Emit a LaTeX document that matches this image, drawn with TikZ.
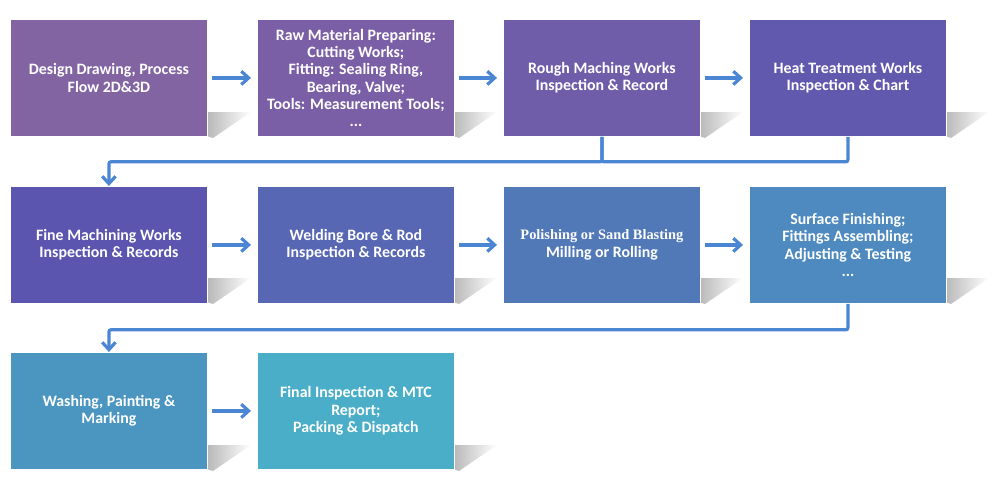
\documentclass[tikz,border=0pt]{standalone}
\usepackage{fontspec}
\setmainfont{Carlito}
\newfontfamily\serifb{Liberation Serif}
\usetikzlibrary{arrows.meta}
\definecolor{c1}{HTML}{8264A3}
\definecolor{c2}{HTML}{7B5FA6}
\definecolor{c3}{HTML}{6F5DAA}
\definecolor{c4}{HTML}{6159AE}
\definecolor{c5}{HTML}{5B55AF}
\definecolor{c6}{HTML}{5767B4}
\definecolor{c7}{HTML}{5179B8}
\definecolor{c8}{HTML}{4E8ABF}
\definecolor{c9}{HTML}{4A96C1}
\definecolor{c10}{HTML}{4AAEC8}
\definecolor{arrc}{HTML}{4A86D4}
\tikzset{
  box/.style={fill=#1, draw=white, line width=0.6pt, minimum width=147.75pt, minimum height=87.75pt,
    text=white, font=\bfseries\fontsize{11.9}{12.9}\selectfont, align=center, anchor=north west, inner sep=0pt},
  arr/.style={draw=arrc, line width=2.4pt, -{Straight Barb[length=5.5pt,width=10pt]}},
  link/.style={draw=arrc, line width=2.4pt, rounded corners=1.5pt},
  shadowfill/.style={left color=black!28, right color=white}
}
\begin{document}
\begin{tikzpicture}[x=0.75pt,y=-0.75pt]
\useasboundingbox (0,0) rectangle (1000,489);
\fill[white] (0,0) rectangle (1000,489);
% shadows first
\foreach \xx in {207,453,699,945}{
  \foreach \yy in {136,302}{
    \shade[shadowfill] (\xx,\yy) -- ++(0,-24) -- ++(44,0) -- ++(-38,26) -- cycle;
  }}
\foreach \xx in {207,453}{
  \shade[shadowfill] (\xx,469) -- ++(0,-24) -- ++(44,0) -- ++(-38,26) -- cycle;}
% row 1
\node[box=c1] (b1) at (10,19) {Design Drawing, Process\\Flow 2D\&3D};
\node[box=c2] (b2) at (257,19) {Raw Material Preparing:\\Cutting Works;\\Fitting: Sealing Ring,\\Bearing, Valve;\\Tools: Measurement Tools;\\...};
\node[box=c3] (b3) at (503,19) {Rough Maching Works\\Inspection \& Record};
\node[box=c4] (b4) at (749,19) {Heat Treatment Works\\Inspection \& Chart};
% row 2
\node[box=c5] (b5) at (10,186) {Fine Machining Works\\Inspection \& Records};
\node[box=c6] (b6) at (257,186) {Welding Bore \& Rod\\Inspection \& Records};
\node[box=c7] (b7) at (503,186) {{\serifb\bfseries\fontsize{10.8}{12.9}\selectfont Polishing or Sand Blasting}\\Milling or Rolling};
\node[box=c8] (b8) at (749,186) {Surface Finishing;\\Fittings Assembling;\\Adjusting \& Testing\\...};
% row 3
\node[box=c9] (b9) at (10,352) {Washing, Painting \&\\Marking};
\node[box=c10] (b10) at (257,352) {Final Inspection \& MTC\\Report;\\Packing \& Dispatch};
% arrows
\foreach \a/\b in {b1/b2,b2/b3,b3/b4,b5/b6,b6/b7,b7/b8,b9/b10}{
  \draw[arr, shorten <=3pt, shorten >=4.5pt] (\a.east) -- (\b.west);}
\draw[link] (b4.south) -- ++(0,25) -| (b3.south);
\draw[arr, rounded corners=1.5pt] (b3.south) -- ++(0,25) -| (b5.north);
\draw[arr, rounded corners=1.5pt] (b8.south) -- ++(0,26) -| (b9.north);
\end{tikzpicture}
\end{document}
